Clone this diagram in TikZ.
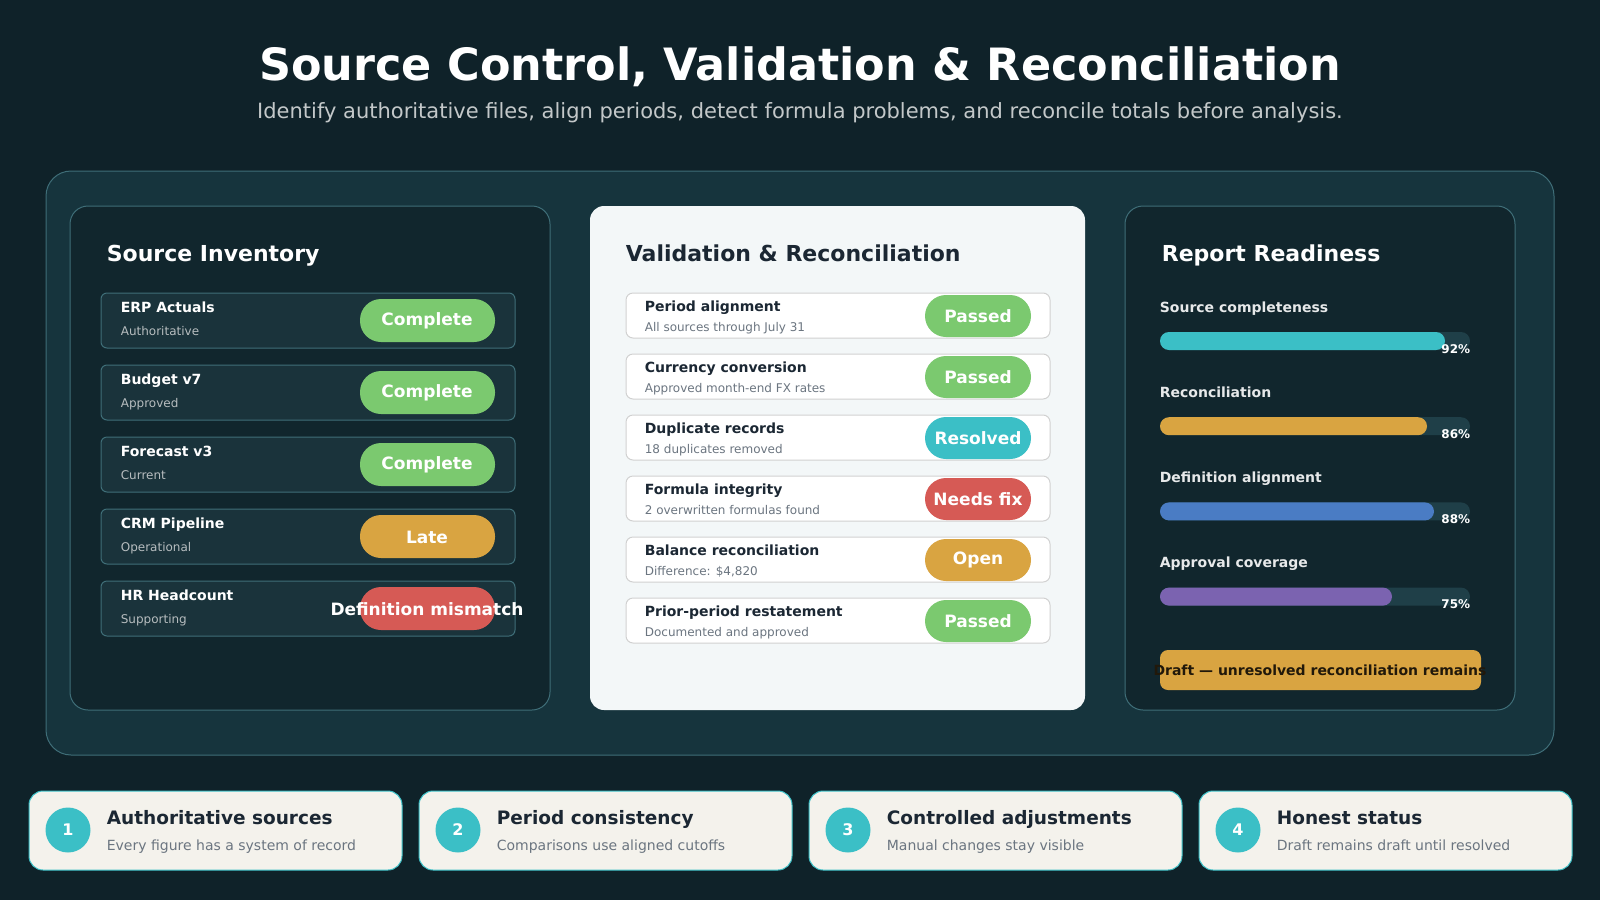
\documentclass[tikz,border=0pt]{standalone}
\usepackage{fontspec}
\setmainfont{DejaVu Sans}
\begin{document}
\definecolor{bg}{HTML}{0F2229}
\definecolor{panel}{HTML}{16343D}
\definecolor{inner}{HTML}{11262D}
\definecolor{rowc}{HTML}{1A333B}
\definecolor{bord}{HTML}{3F6E78}
\definecolor{gr}{HTML}{7BC96F}
\definecolor{am}{HTML}{D9A441}
\definecolor{rd}{HTML}{D65A55}
\definecolor{tl}{HTML}{3BBFC6}
\definecolor{bl}{HTML}{4A7CC4}
\definecolor{pu}{HTML}{7B63B0}
\definecolor{card}{HTML}{F4F2EC}
\definecolor{ink}{HTML}{1B2733}
\definecolor{subg}{HTML}{6B7580}
\definecolor{light}{HTML}{F3F7F8}
\definecolor{track}{HTML}{1F3F48}
\begin{tikzpicture}[x=1pt,y=-1pt,line width=1pt,
  ptxt/.style={font=\bfseries\fontsize{17}{17}\selectfont,text=white},
  rt/.style={anchor=base west,font=\bfseries\fontsize{14}{14}\selectfont},
  rs/.style={anchor=base west,font=\fontsize{12}{12}\selectfont}]
\useasboundingbox (0,0) rectangle (1600,900);
\fill[bg] (0,0) rectangle (1600,900);
\node[font=\bfseries\fontsize{44.5}{44.5}\selectfont,text=white] (title) at (800,67) {Source Control, Validation \& Reconciliation};
\node[font=\fontsize{21}{21}\selectfont,text=white!75!bg] (sub) at (800,113) {Identify authoritative files, align periods, detect formula problems, and reconcile totals before analysis.};
\draw[bord,fill=panel,rounded corners=25pt] (46,171) rectangle (1554,755);
% left
\draw[bord,fill=inner,rounded corners=18pt] (70,206) rectangle (550,710);
\node[anchor=base west,font=\bfseries\fontsize{22}{22}\selectfont,text=white] (lh) at (103,261) {Source Inventory};
\foreach \i/\t/\s/\c/\p in {0/ERP Actuals/Authoritative/gr/Complete,1/Budget v7/Approved/gr/Complete,2/Forecast v3/Current/gr/Complete,3/CRM Pipeline/Operational/am/Late,4/HR Headcount/Supporting/rd/Definition mismatch}{
  \pgfmathsetmacro\yy{293+72*\i}
  \draw[bord,fill=rowc,rounded corners=6pt] (101,\yy) rectangle (515,\yy+55);
  \node[rt,text=white] at (117,\yy+19) {\t};
  \node[rs,text=white!70!bg] at (117,\yy+42) {\s};
  \fill[\c,rounded corners=21pt] (360,\yy+6) rectangle (495,\yy+49);
  \node[ptxt] at (427,\yy+28) {\p};
}
% middle
\fill[light,rounded corners=14pt] (590,206) rectangle (1085,710);
\node[anchor=base west,font=\bfseries\fontsize{22}{22}\selectfont,text=ink] (mh) at (622,261) {Validation \& Reconciliation};
\foreach \i/\t/\s/\c/\p in {0/Period alignment/All sources through July 31/gr/Passed,1/Currency conversion/Approved month-end FX rates/gr/Passed,2/Duplicate records/18 duplicates removed/tl/Resolved,3/Formula integrity/2 overwritten formulas found/rd/Needs fix,4/Balance reconciliation/{Difference: \$4,820}/am/Open,5/Prior-period restatement/Documented and approved/gr/Passed}{
  \pgfmathsetmacro\yy{293+61*\i}
  \draw[black!18,fill=white,rounded corners=7pt] (626,\yy) rectangle (1050,\yy+45);
  \node[rt,text=ink] at (641,\yy+18) {\t};
  \node[rs,text=subg] at (641,\yy+38) {\s};
  \fill[\c,rounded corners=21pt] (925,\yy+2) rectangle (1031,\yy+44);
  \node[ptxt] at (978,\yy+23) {\p};
}
% right
\draw[bord,fill=inner,rounded corners=18pt] (1125,206) rectangle (1515,710);
\node[anchor=base west,font=\bfseries\fontsize{22}{22}\selectfont,text=white] (rh) at (1158,261) {Report Readiness};
\foreach \i/\t/\e/\c/\p in {0/Source completeness/1445/tl/92,1/Reconciliation/1427/am/86,2/Definition alignment/1434/bl/88,3/Approval coverage/1392/pu/75}{
  \pgfmathsetmacro\yy{312+85.2*\i}
  \node[rt,text=white!90!bg] at (1156,\yy) {\t};
  \fill[track,rounded corners=9pt] (1160,\yy+20) rectangle (1470,\yy+38);
  \fill[\c,rounded corners=9pt] (1160,\yy+20) rectangle (\e,\yy+38);
  \node[anchor=base east,font=\bfseries\fontsize{12}{12}\selectfont,text=white] at (1474,\yy+41) {\p\%};
}
\fill[am,rounded corners=8pt] (1160,650) rectangle (1481,690);
\node[font=\bfseries\fontsize{14}{14}\selectfont,text=black!85!am] (draft) at (1320,670) {Draft — unresolved reconciliation remains};
% bottom cards
\foreach \i/\n/\t/\s in {0/1/Authoritative sources/Every figure has a system of record,1/2/Period consistency/Comparisons use aligned cutoffs,2/3/Controlled adjustments/Manual changes stay visible,3/4/Honest status/Draft remains draft until resolved}{
  \pgfmathsetmacro\xx{29+390*\i}
  \draw[tl,fill=card,rounded corners=14pt] (\xx,791) rectangle (\xx+373,870);
  \fill[tl] (\xx+39,830) circle (22.5);
  \node[font=\bfseries\fontsize{16}{16}\selectfont,text=white] at (\xx+39,830) {\n};
  \node[anchor=base west,font=\bfseries\fontsize{18.5}{18.5}\selectfont,text=ink] at (\xx+74,824) {\t};
  \node[anchor=base west,font=\fontsize{14}{14}\selectfont,text=subg] at (\xx+74,850) {\s};
}
\end{tikzpicture}
\end{document}
